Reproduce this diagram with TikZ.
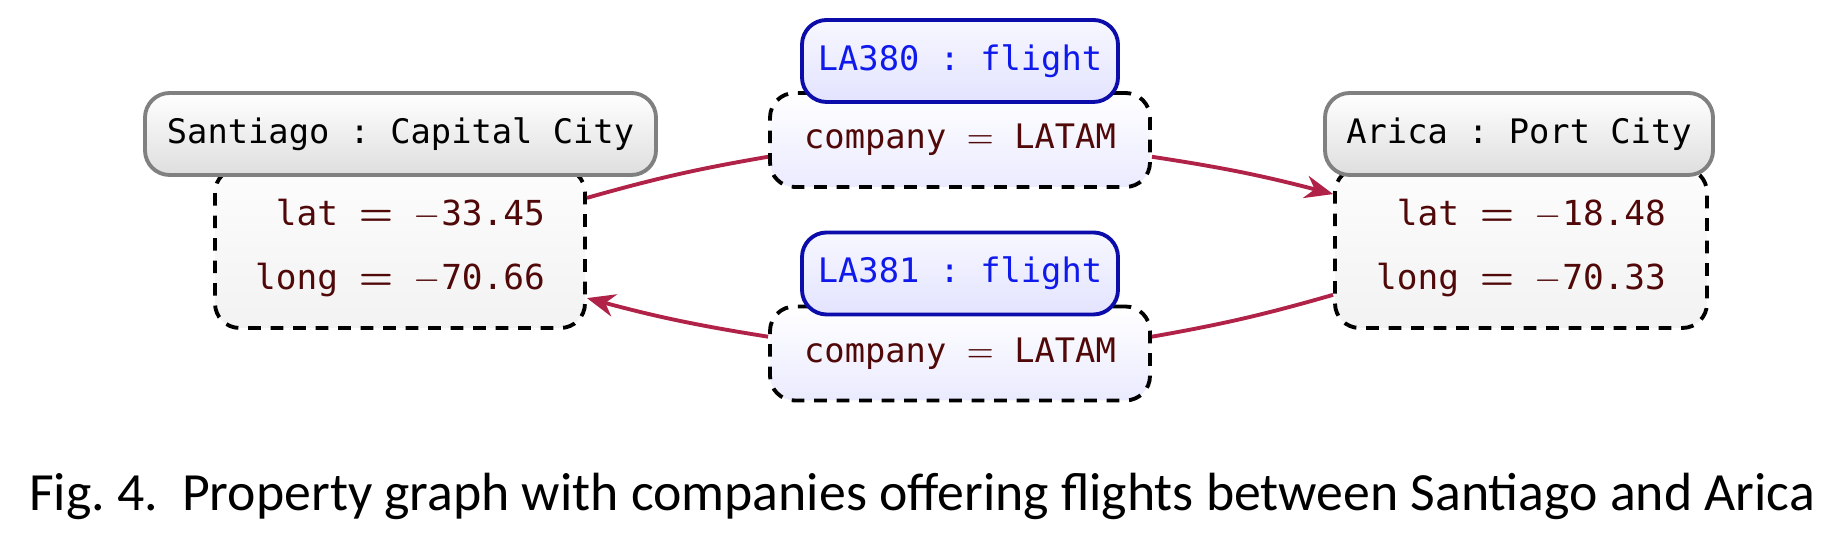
\documentclass[tikz,border=0pt]{standalone}
\usepackage{amsmath}
\usepackage{fontspec}
\setmainfont{Carlito}
\setmonofont{DejaVu Sans Mono}
\usetikzlibrary{positioning,arrows.meta}

\definecolor{edgered}{RGB}{176,34,72}
\definecolor{propred}{RGB}{80,8,8}
\definecolor{labelblue}{RGB}{15,25,235}
\definecolor{borderblue}{RGB}{12,12,170}
\definecolor{bordergray}{RGB}{128,128,128}

\newcommand{\propeq}{{\fontsize{11}{11}\selectfont$\boldsymbol{=}$}}

\begin{document}
\begin{tikzpicture}[
    header/.style={draw=bordergray, line width=1.1pt, rounded corners=7pt, top color=white, bottom color=black!13, minimum height=0.82cm, inner sep=0pt, font=\ttfamily\fontsize{9.6}{11}\selectfont},
    flighthead/.style={header, draw=borderblue, top color=blue!3, bottom color=blue!11, text=labelblue},
    props/.style={draw, dash pattern=on 3.6pt off 2.8pt, line width=1.1pt, rounded corners=7pt, top color=black!1, bottom color=black!5, inner sep=0pt, align=right, text=propred, font=\ttfamily\fontsize{9.8}{18}\selectfont},
    flightprops/.style={props, top color=white, bottom color=blue!8, font=\ttfamily\fontsize{9.6}{18}\selectfont},
    edgeline/.style={draw=edgered, line width=1.1pt}
]
    \useasboundingbox (0, 0) rectangle (18.36, 5.38);

    % property boxes
    \node [props, minimum width=3.70cm, minimum height=1.6cm] (sant) at (4.00, 2.90) {lat \propeq{} $-$33.45\\long \propeq{} $-$70.66};
    \node [props, minimum width=3.72cm, minimum height=1.6cm] (arica) at (15.21, 2.90) {lat \propeq{} $-$18.48\\long \propeq{} $-$70.33};
    \node [flightprops, minimum width=3.80cm, minimum height=0.94cm] (la380) at (9.60, 3.98) {company $=$ LATAM};
    \node [flightprops, minimum width=3.80cm, minimum height=0.94cm] (la381) at (9.60, 1.845) {company $=$ LATAM};

    % labels on top
    \node [header, minimum width=5.11cm] (santlabel) at (4.005, 4.04) {Santiago : Capital City};
    \node [header, minimum width=3.88cm] (aricalabel) at (15.19, 4.04) {Arica : Port City};
    \node [flighthead, minimum width=3.16cm] (la380label) at (9.60, 4.77) {LA380 : flight};
    \node [flighthead, minimum width=3.16cm] (la381label) at (9.60, 2.645) {LA381 : flight};

    % edges
    \draw [edgeline] (sant.15) to[bend left=3] (la380.185);
    \draw [edgeline, -{Stealth[length=8pt, width=6.5pt]}] (la380.-5) to[bend left=3] (arica.164);
    \draw [edgeline] (arica.194) to[bend left=3] (la381.5);
    \draw [edgeline, -{Stealth[length=8pt, width=6.5pt]}] (la381.175) to[bend left=3] (sant.-15);

    \node [anchor=base, font=\fontsize{15.3}{17}\selectfont] (caption) at (9.22, 0.27) {Fig.\ 4.\ \ Property graph with companies offering flights between Santiago and Arica};
\end{tikzpicture}
\end{document}
